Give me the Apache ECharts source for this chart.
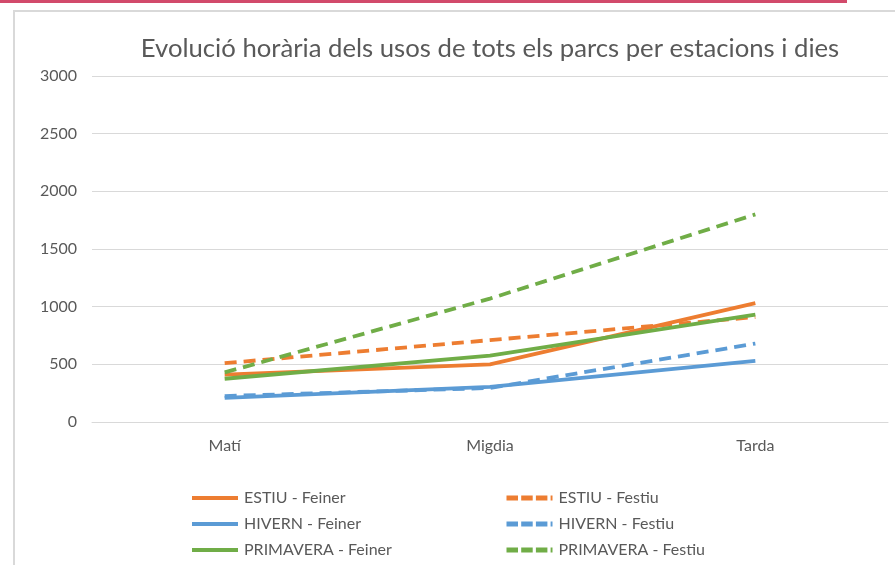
<!DOCTYPE html>
<html>
<head>
<meta charset="utf-8">
<script src="https://cdn.jsdelivr.net/npm/echarts@6/dist/echarts.min.js"></script>
<style>html,body{margin:0;padding:0;background:#fff;}#c{width:895px;height:565px;}</style>
</head>
<body>
<div id="c"></div>
<script>
var categories = ['Matí', 'Migdia', 'Tarda'];
var estiuFeiner = [410, 500, 1030];
var estiuFestiu = [510, 710, 910];
var hivernFeiner = [210, 305, 530];
var hivernFestiu = [225, 295, 680];
var primaveraFeiner = [375, 575, 930];
var primaveraFestiu = [430, 1070, 1800];
var yTicks = [0, 500, 1000, 1500, 2000, 2500, 3000];

var FONT = 'Lato';
var TXT = '#595959';
var ORANGE = '#ED7D31', BLUE = '#5B9BD5', GREEN = '#70AD47';
var DASH = [12, 7];

function mk(name, data, color, dashed) {
  return {
    name: name, type: 'line', data: data, symbol: 'none', smooth: false,
    lineStyle: { color: color, width: 3.8, type: dashed ? DASH : 'solid', cap: 'butt' },
    itemStyle: { color: color }
  };
}

var legendCommon = {
  orient: 'vertical', top: 485, height: 90, itemWidth: 46, itemHeight: 14, itemGap: 10,
  itemStyle: { opacity: 0 },
  textStyle: { fontFamily: FONT, fontSize: 16, color: TXT, padding: [0, 0, 0, 1] }
};

var chart = echarts.init(document.getElementById('c'), null, { renderer: 'canvas' });
chart.setOption({
  backgroundColor: '#fff',
  animation: false,
  title: {
    text: 'Evolució horària dels usos de tots els parcs per estacions i dies',
    left: 485, top: 31, textAlign: 'center',
    textStyle: { fontFamily: FONT, fontSize: 25.7, fontWeight: 'normal', color: TXT }
  },
  graphic: [
    { type: 'rect', shape: { x: 0, y: 0, width: 847, height: 3 }, style: { fill: '#D24A6B' }, z: 100 },
    { type: 'polyline', shape: { points: [[14, 565], [14, 11], [895, 11]] }, style: { stroke: '#D9D9D9', lineWidth: 2, fill: null }, z: 100 }
  ],
  legend: [
    Object.assign({}, legendCommon, {
      data: ['ESTIU - Feiner', 'HIVERN - Feiner', 'PRIMAVERA - Feiner'], left: 185,
      lineStyle: { width: 4 }
    }),
    Object.assign({}, legendCommon, {
      data: ['ESTIU - Festiu', 'HIVERN - Festiu', 'PRIMAVERA - Festiu'], left: 499,
      lineStyle: { width: 5, type: [11.5, 3.2] }
    })
  ],
  grid: { left: 92, right: 7, top: 76, bottom: 143, containLabel: false },
  xAxis: {
    type: 'category', data: categories, boundaryGap: true,
    axisLine: { lineStyle: { color: '#D9D9D9', width: 1 } },
    axisTick: { show: false },
    axisLabel: { margin: 16, fontFamily: FONT, fontSize: 16, color: TXT }
  },
  yAxis: {
    type: 'value', min: 0, max: 3000, interval: 500,
    axisLine: { show: false }, axisTick: { show: false },
    splitLine: { lineStyle: { color: '#D9D9D9', width: 1 } },
    axisLabel: { margin: 15, fontFamily: FONT, fontSize: 16, color: TXT,
      formatter: function (v) { return yTicks.indexOf(v) >= 0 ? String(v) : ''; } }
  },
  series: [
    mk('ESTIU - Feiner', estiuFeiner, ORANGE, false),
    mk('ESTIU - Festiu', estiuFestiu, ORANGE, true),
    mk('HIVERN - Feiner', hivernFeiner, BLUE, false),
    mk('HIVERN - Festiu', hivernFestiu, BLUE, true),
    mk('PRIMAVERA - Feiner', primaveraFeiner, GREEN, false),
    mk('PRIMAVERA - Festiu', primaveraFestiu, GREEN, true)
  ]
});
</script>
</body>
</html>
